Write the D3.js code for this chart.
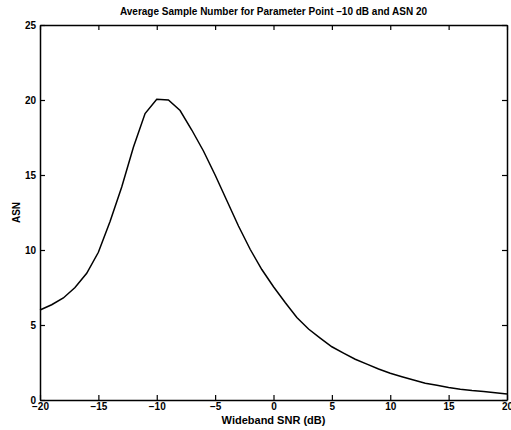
<!DOCTYPE html>
<html><head><meta charset="utf-8">
<script src="https://cdn.jsdelivr.net/npm/d3@7"></script>
<style>body{margin:0;background:#fff}svg{display:block}text{font-family:"Liberation Sans",Arial,sans-serif;font-weight:bold}</style>
</head><body>
<script>
const snr = [-20,-19,-18,-17,-16,-15,-14,-13,-12,-11,-10,-9,-8,-7,-6,-5,-4,-3,-2,-1,0,1,2,3,4,5,6,7,8,9,10,11,12,13,14,15,16,17,18,19,20];
const asn = [6.0,6.35,6.8,7.5,8.45,9.85,11.9,14.2,16.85,19.1,20.05,20.0,19.3,18.0,16.6,15.0,13.3,11.6,10.05,8.7,7.55,6.5,5.5,4.73,4.13,3.55,3.13,2.72,2.39,2.07,1.78,1.55,1.33,1.12,0.98,0.84,0.72,0.63,0.56,0.48,0.4];
const xTicks = [-20,-15,-10,-5,0,5,10,15,20];
const yTicks = [0,5,10,15,20,25];
const title = "Average Sample Number for Parameter Point \u201310 dB and ASN 20";
const xLabel = "Wideband SNR (dB)";
const yLabel = "ASN";

const W=511,H=430, m={l:40,r:4,t:25,b:30};
const svg=d3.select("body").append("svg").attr("width",W).attr("height",H);
const x=d3.scaleLinear().domain([-20,20]).range([m.l,W-m.r]);
const y=d3.scaleLinear().domain([0,25]).range([H-m.b,m.t]);
const fmt=d=>d<0?"\u2212"+Math.abs(d):String(d);

const gx=svg.append("g").attr("transform",`translate(0,${H-m.b})`)
  .call(d3.axisBottom(x).tickValues(xTicks).tickFormat(fmt).tickSizeInner(-5).tickSizeOuter(0).tickPadding(3));
const gxt=svg.append("g").attr("transform",`translate(0,${m.t})`)
  .call(d3.axisTop(x).tickValues(xTicks).tickFormat("").tickSizeInner(-5).tickSizeOuter(0));
const gy=svg.append("g").attr("transform",`translate(${m.l},0)`)
  .call(d3.axisLeft(y).tickValues(yTicks).tickSizeInner(-5).tickSizeOuter(0).tickPadding(4));
const gyr=svg.append("g").attr("transform",`translate(${W-m.r},0)`)
  .call(d3.axisRight(y).tickValues(yTicks).tickFormat("").tickSizeInner(-5).tickSizeOuter(0));
[gx,gxt,gy,gyr].forEach(g=>{
  g.select(".domain").attr("stroke","#000").attr("stroke-width",1.5);
  g.selectAll(".tick line").attr("stroke","#000").attr("stroke-width",1.2);
  g.selectAll("text").attr("fill","#000").style("font-size","10px").style("font-family","'Liberation Sans',Arial,sans-serif").style("font-weight","bold");
});

svg.append("path").datum(snr.map((s,i)=>[s,asn[i]]))
  .attr("fill","none").attr("stroke","#000").attr("stroke-width",1.5)
  .attr("d",d3.line().x(d=>x(d[0])).y(d=>y(d[1])));

svg.append("text").attr("x",(m.l+W-m.r)/2).attr("y",15).attr("text-anchor","middle").style("font-size","10px").text(title);
svg.append("text").attr("x",(m.l+W-m.r)/2).attr("y",424).attr("text-anchor","middle").style("font-size","11px").text(xLabel);
svg.append("text").attr("transform",`translate(20,${(m.t+H-m.b)/2}) rotate(-90)`).attr("text-anchor","middle").style("font-size","10px").text(yLabel);
</script>
</body></html>
